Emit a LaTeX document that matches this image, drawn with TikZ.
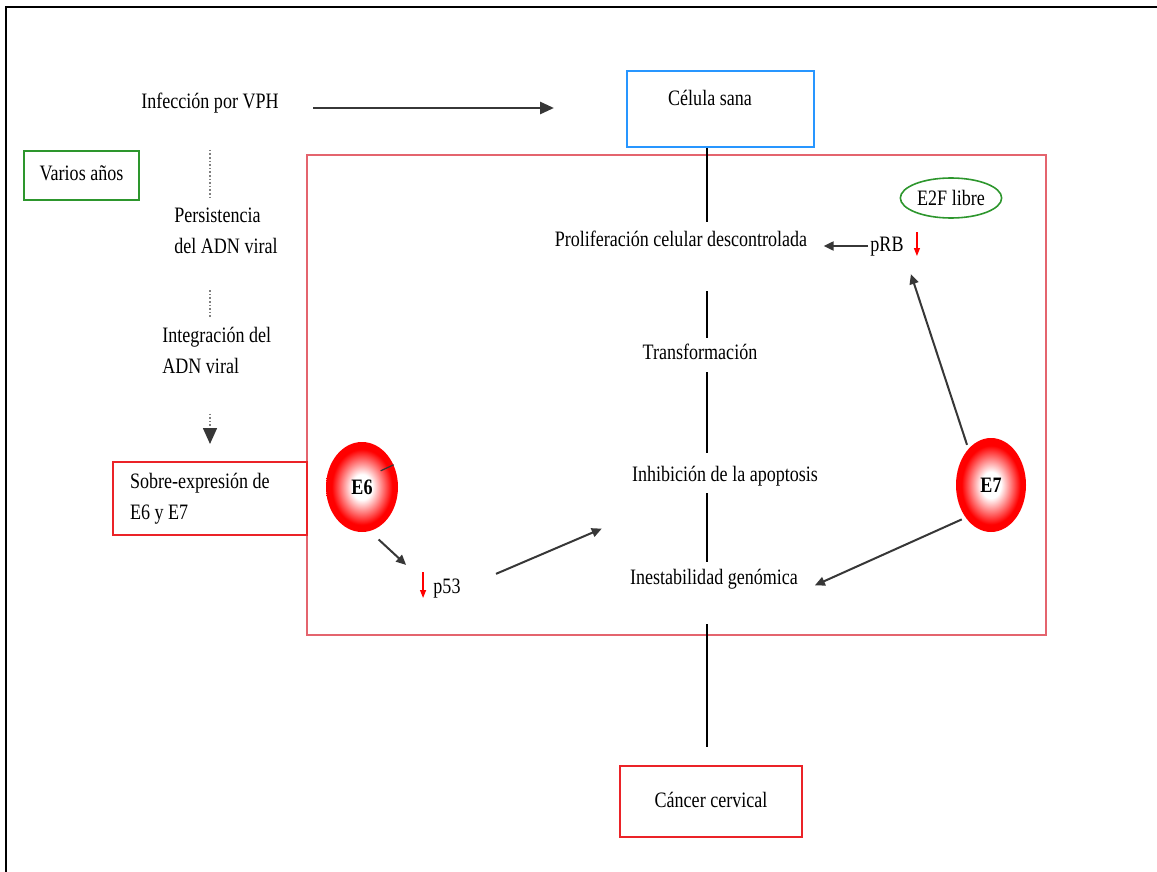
\documentclass[tikz,border=0pt]{standalone}
\usepackage{fontspec}
\setmainfont{Liberation Serif}[FakeStretch=0.82]
\usetikzlibrary{arrows.meta,positioning,shapes.geometric}
\definecolor{boxred}{RGB}{235,35,40}
\definecolor{framered}{RGB}{228,100,110}
\definecolor{celblue}{RGB}{40,150,255}
\definecolor{agreen}{RGB}{45,150,45}
\definecolor{arrowgray}{RGB}{55,55,55}
\pgfdeclareradialshading{eball}{\pgfpoint{0bp}{0bp}}{color(0bp)=(white); color(7bp)=(white); color(21bp)=(red); color(25bp)=(red); color(50bp)=(red)}

\tikzset{
  txt/.style={font=\fontsize{11}{15.5}\selectfont, inner sep=1pt},
  lbl/.style={txt, text height=8pt, text depth=2.5pt},
  redbox/.style={draw=boxred, line width=1pt},
  link/.style={-{Triangle[length=5pt,width=4.5pt]}, arrowgray, line width=1pt},
  spine/.style={black, line width=0.7pt},
  dots/.style={gray, densely dotted, line width=0.8pt},
  down/.style={-{Triangle[length=4pt,width=3pt]}, red, line width=0.6pt},
  protein/.style={ellipse, inner sep=0pt, minimum width=36pt, minimum height=45pt,
    shading=eball, font=\bfseries\fontsize{11}{12}\selectfont}
}

\begin{document}
\begin{tikzpicture}[x=0.5pt,y=-0.5pt]
  \useasboundingbox (0,0) rectangle (1157,872);
  % Frame
  \draw[black, line width=1.3pt] (6,872) -- (6,7) -- (1157,7);
  % Box round the cell changes
  \draw[framered, line width=1.2pt] (307,155) rectangle (1046,635);

  % Left column
  \node[lbl] (vph) at (210,103) {Infección por VPH};
  \node[lbl, draw=agreen, line width=0.8pt, minimum width=57.5pt, minimum height=24.5pt] (years) at (81.5,175.5) {Varios años};
  \node[txt, align=left, anchor=west] (persist) at (172,231) {Persistencia\\del ADN viral};
  \node[txt, align=left, anchor=west] (integ) at (160,350) {Integración del\\ADN viral};
  \node[txt, redbox, align=flush left, inner xsep=8.5pt, text width=80pt, minimum height=36.5pt] (over) at (210,498.5) {Sobre-expresión de\\E6 y E7};
  \draw[dots] (vph.south) -- (vph.south |- persist.north) [shorten <=17pt, shorten >=3pt];
  \draw[dots] (vph.south |- persist.south) -- (vph.south |- integ.north) [shorten <=17pt, shorten >=3.5pt];
  \draw[dots, -{Triangle[length=8pt,width=7pt,color=arrowgray]}, shorten <=19pt, shorten >=8.5pt] (vph.south |- integ.south) -- (vph.south |- over.north);

  % Central column
  \node[draw=celblue, line width=1pt, minimum width=93.5pt, minimum height=38pt] (sana) at (720.5,109) {};
  \node[lbl] (sanalbl) at (710,100) {Célula sana};
  \node[lbl] (prolif) at (681,241) {Proliferación celular descontrolada};
  \node[lbl] (transf) at (700,354) {Transformación};
  \node[lbl] (inhib) at (725,476) {Inhibición de la apoptosis};
  \node[lbl] (instab) at (714,579) {Inestabilidad genómica};
  \node[lbl, redbox, minimum width=91pt, minimum height=35.5pt] (cancer) at (711,801.5) {Cáncer cervical};
  \coordinate (axis) at (707,0);
  \draw[spine, shorten >=3.25pt] (axis |- sana.south) -- (axis |- prolif.north);
  \draw[spine, shorten <=18.75pt, shorten >=1.75pt] (axis |- prolif.south) -- (axis |- transf.north);
  \draw[spine, shorten <=2.75pt, shorten >=5.25pt] (axis |- transf.south) -- (axis |- inhib.north);
  \draw[spine, shorten <=2.25pt, shorten >=2.25pt] (axis |- inhib.south) -- (axis |- instab.north);
  \draw[spine, shorten <=16.25pt, shorten >=9pt] (axis |- instab.south) -- (axis |- cancer.north);
  \draw[-{Triangle[length=7pt,width=6pt]}, arrowgray, line width=1.4pt, shorten <=16pt, shorten >=36pt]
    ([yshift=-2.5pt]vph.east) -- ([yshift=-2.5pt]vph.east -| sana.west);

  % E6 side
  \node[protein] (e6) at (362,487) {E6};
  \node[lbl] (p53) at (447,588) {p53};
  \coordinate (gap) at (622,520);
  \draw[arrowgray, line width=0.6pt] (e6.35) -- ++(-13,6);
  \draw[link, shorten <=6pt, shorten >=17pt] (e6.-80) -- (p53.west);
  \draw[down] ([xshift=-4pt,yshift=8pt]p53.west) -- ([xshift=-4pt,yshift=-5pt]p53.west);
  \draw[link, shorten <=18pt, shorten >=11pt] (p53.east) -- (gap);

  % E7 side
  \node[protein, minimum width=35pt, minimum height=47pt] (e7) at (991,485) {E7};
  \node[lbl] (prb) at (887,246) {pRB};
  \node[ellipse, draw=agreen, line width=0.8pt, inner sep=0pt, minimum width=48pt, minimum height=20pt, txt] (e2f) at (951,198) {E2F libre};
  \draw[link, shorten >=7pt] (prb.west) -- (prb.west -| prolif.east);
  \draw[down] ([xshift=5.5pt,yshift=7pt]prb.east) -- ([xshift=5.5pt,yshift=-5pt]prb.east);
  \draw[link, shorten <=2pt, shorten >=8pt] (e7.122) -- (prb.south east);
  \draw[link, shorten <=2pt, shorten >=8pt] (e7.-128) -- (instab.south east);
\end{tikzpicture}
\end{document}
